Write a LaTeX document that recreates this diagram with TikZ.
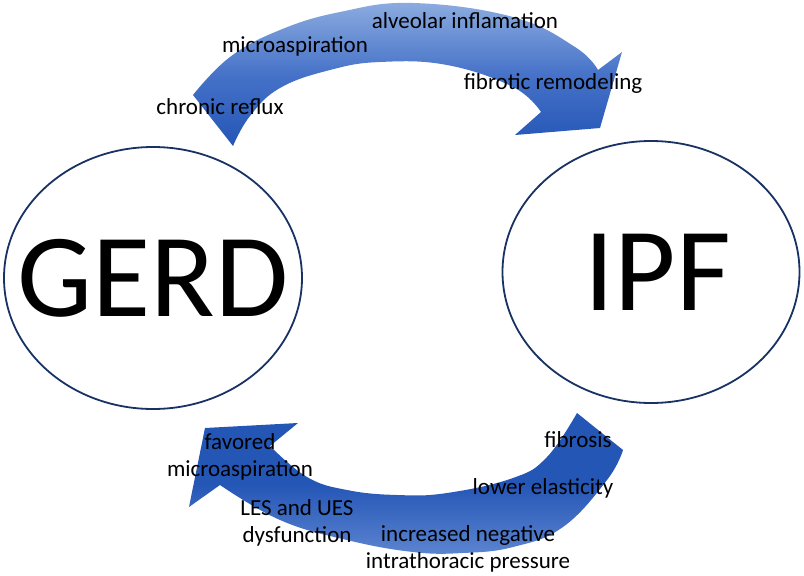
\documentclass[tikz,border=0pt]{standalone}
\usepackage{fontspec}
\setmainfont{Carlito}
\usepackage{xcolor}
\usepackage{tikz}
\usetikzlibrary{arrows.meta, positioning, calc, shapes.geometric}

\definecolor{arrowlight}{RGB}{140,172,224}
\definecolor{arrowmid}{RGB}{70,114,200}
\definecolor{arrowdark}{RGB}{36,86,182}
\definecolor{arrowsoft}{RGB}{92,132,208}
\definecolor{ringcol}{RGB}{24,50,100}

\tikzset{
  disease/.style={ellipse, draw=ringcol, line width=1.8pt, fill=white, inner sep=0pt},
  bigtxt/.style={inner sep=0pt, font=\fontsize{119}{124}\selectfont},
  lbl/.style={inner sep=0pt, align=center, font=\fontsize{23}{27}\selectfont}
}

\begin{document}
\begin{tikzpicture}[x=1pt, y=-1pt]
    % sfondo
    \fill[white] (0,0) rectangle (804,576);
    \useasboundingbox (0,0) rectangle (804,576);

    % I due cerchi (GERD e IPF)
    \node[disease, minimum width=298pt, minimum height=262pt,
          label={[bigtxt]center:GERD}] (gerd) at (153,278) {};
    \node[disease, minimum width=297pt, minimum height=262pt,
          label={[bigtxt, xshift=7pt]center:IPF}] (ipf) at (651,272) {};

    % Freccia superiore (GERD -> IPF)
    \shade[top color=arrowlight, bottom color=arrowdark, middle color=arrowmid]
        (233,146) -- (193,95)
        -- plot [smooth, tension=0.7] coordinates {(193,95) (230,57) (280,30) (340,12) (413,3) (513,17) (575,47) (598,70)}
        -- (622,52) -- (600,128) -- (515,135) -- (541,112)
        -- plot [smooth, tension=0.7] coordinates {(541,112) (513,87) (447,65) (380,62) (330,70) (280,88) (250,116) (233,146)}
        -- cycle;

    % Freccia inferiore (IPF -> GERD)
    \shade[top color=arrowdark, bottom color=arrowsoft, middle color=arrowdark]
        (577,413) -- (623,450)
        -- plot [smooth, tension=0.7] coordinates {(623,450) (607,480) (563,527) (513,547) (463,553) (413,552) (347,540) (280,520) (220,485)}
        -- (189,507) -- (205,428) -- (298,423) -- (270,446)
        -- plot [smooth, tension=0.7] coordinates {(270,446) (307,477) (347,490) (397,495) (447,493) (513,478) (547,457) (577,413)}
        -- cycle;

    % Etichette in alto
    \node[lbl] (reflux) at (220,107) {chronic reflux};
    \node[lbl] (microasp) at (295,46) {microaspiration};
    \node[lbl] (alveolar) at (465,21) {alveolar inflamation};
    \node[lbl] (remodel) at (553,83) {fibrotic remodeling};

    % Etichette in basso
    \node[lbl] (favored) at (240,457) {favored\\microaspiration};
    \node[lbl] (fibrosis) at (578,440) {fibrosis};
    \node[lbl] (elastic) at (543,488) {lower elasticity};
    \node[lbl] (les) at (297,523) {LES and UES\\dysfunction};
    \node[lbl] (pressure) at (468,549) {increased negative\\intrathoracic pressure};

\end{tikzpicture}
\end{document}
